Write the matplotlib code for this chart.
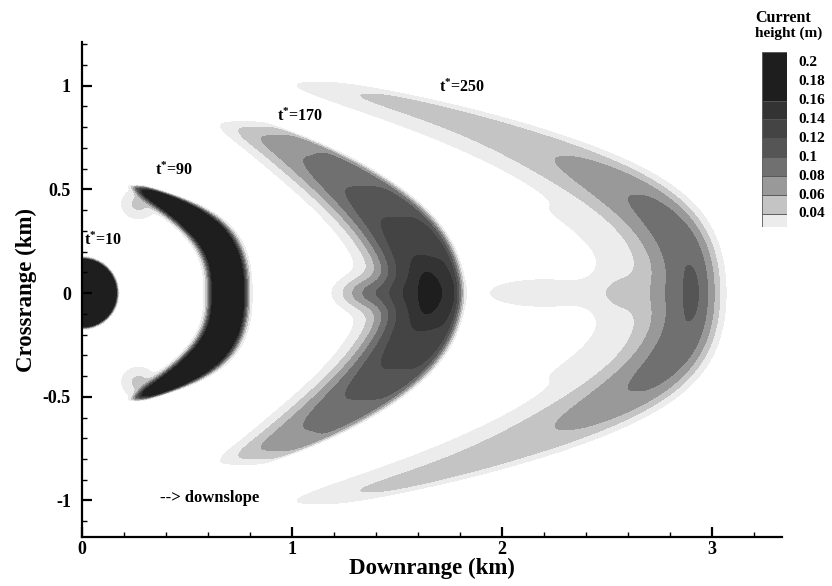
import numpy as np
import matplotlib
matplotlib.use('Agg')
import matplotlib.pyplot as plt

plt.rcParams['font.family'] = ['Liberation Serif', 'DejaVu Serif']
plt.rcParams['font.weight'] = 'bold'
plt.rcParams['mathtext.fontset'] = 'custom'
plt.rcParams['mathtext.rm'] = 'Liberation Serif:bold'
plt.rcParams['mathtext.it'] = 'Liberation Serif:bold'
plt.rcParams['mathtext.bf'] = 'Liberation Serif:bold'

# contour levels and grey fills (legend of the original)
levels = [0.02, 0.04, 0.06, 0.08, 0.10, 0.12, 0.14, 0.16, 1.0]
fill_colors = ['#ececec', '#c4c4c4', '#999999', '#707070',
               '#555555', '#444444', '#333333', '#1e1e1e']
legend_labels = ['0.04', '0.06', '0.08', '0.1', '0.12', '0.14', '0.16', '0.18', '0.2']

# t*=10: release cylinder
disk_radius = 0.163
disk_height = 0.3

# crescent fronts t*=90, 170, 250
nose_x = [0.695, 1.655, 2.90]
bend_k = [2.6, 1.3, 1.7]
bend_p = [2.7, 2.0, 2.5]
tip_y = [0.52, 0.84, 1.04]
base_h = [0.35, 0.145, 0.093]
plateau = [1.0, 0.0, 0.5]
decay_s = [1.0, 1.0, 0.6]
decay_m = [2, 2, 4]
tip_q = [10, 17, 24]
width_front = [0.081, 0.153, 0.144]
width_back = [0.081, 0.23, 0.24]
exp_front = [3, 8, 3]
exp_back = [3, 3, 2.33]
thin_c = [0.86, 0.75, 0.8]
thin_r = [3.3, 2, 2]
core_h = [0.0, 0.04, 0.02]
core_y = [0.1, 0.1, 0.13]
core_w = [0.05, 0.045, 0.035]
wake_h = [0.0, 0.01, 0.022]
wake_d = [-0.3, -0.3, -0.36]
wake_w = [0.1, 0.1, 0.12]
wake_s = [0.4, 0.4, 0.7]

# trailing tongue on the centreline
tongue_x = [1.35, 2.2]
tongue_h = [0.06, 0.03]
tongue_wx = [0.15, 0.4]
tongue_wy = [0.08, 0.1]

# pale patches behind the t*=90 tips
tail_x = [0.27, 0.27]
tail_y = [0.43, -0.43]
tail_h = [0.045, 0.045]
tail_wx = 0.09
tail_wy = 0.08

# text labels
time_labels = ['t$^{*}$=10', 't$^{*}$=90', 't$^{*}$=170', 't$^{*}$=250']
time_label_x = [0.10, 0.44, 1.04, 1.81]
time_label_y = [0.255, 0.593, 0.85, 0.99]


x = np.linspace(-0.05, 3.4, 900)
y = np.linspace(-1.25, 1.25, 700)
X, Y = np.meshgrid(x, y)
H = np.zeros_like(X)

R = np.hypot(X, Y)
H += disk_height / (1 + np.exp((R - disk_radius) / 0.005))

for i in range(len(nose_x)):
    ay = np.abs(Y)
    s = ay / tip_y[i]
    xc = nose_x[i] - bend_k[i] * ay ** bend_p[i]
    slope = bend_k[i] * bend_p[i] * ay ** (bend_p[i] - 1)
    d = (X - xc) / np.sqrt(1 + slope ** 2)
    thin = np.clip(1 - thin_c[i] * s ** thin_r[i], 0.12, None)
    wf = width_front[i] * thin
    wb = width_back[i] * thin
    prof = np.where(d > 0, np.exp(-(np.abs(d) / wf) ** exp_front[i]),
                    np.exp(-(np.abs(d) / wb) ** exp_back[i]))
    amp = plateau[i] + (1 - plateau[i]) * np.exp(-(s / decay_s[i]) ** decay_m[i])
    amp = amp * np.clip(1 - s ** tip_q[i], 0, None)
    H += base_h[i] * amp * prof
    H += core_h[i] * np.exp(-(Y / core_y[i]) ** 2 - (d / core_w[i]) ** 2)
    H += wake_h[i] * np.exp(-(s / wake_s[i]) ** 2 - ((d - wake_d[i]) / wake_w[i]) ** 2)

for i in range(len(tongue_x)):
    H += tongue_h[i] * np.exp(-((X - tongue_x[i]) / tongue_wx[i]) ** 2
                              - (Y / tongue_wy[i]) ** 2)

for i in range(len(tail_x)):
    H += tail_h[i] * np.exp(-((X - tail_x[i]) / tail_wx) ** 2
                            - ((Y - tail_y[i]) / tail_wy) ** 2)

fig = plt.figure(figsize=(8.32, 5.86), dpi=100)
ax = fig.add_axes([82 / 832, 1 - 537 / 586, 700 / 832, 495 / 586])
ax.contourf(X, Y, H, levels=levels, colors=fill_colors)

ax.set_xlim(0, 3.333)
ax.set_ylim(-1.176, 1.21)
for side in ['top', 'right']:
    ax.spines[side].set_visible(False)
for side in ['left', 'bottom']:
    ax.spines[side].set_linewidth(1.6)
ax.set_xticks([0, 1, 2, 3])
ax.set_xticklabels(['0', '1', '2', '3'])
ax.set_xticks(np.arange(0, 3.3, 0.2), minor=True)
ax.set_yticks([-1, -0.5, 0, 0.5, 1])
ax.set_yticklabels(['-1', '-0.5', '0', '0.5', '1'])
ax.set_yticks(np.arange(-1.1, 1.25, 0.1), minor=True)
ax.tick_params(which='major', direction='in', length=7, width=1.6, labelsize=13)
ax.tick_params(axis='y', which='major', pad=8)
ax.tick_params(axis='x', which='major', pad=3)
ax.tick_params(which='minor', direction='in', length=3.5, width=1.0)
ax.set_xlabel('Downrange (km)', fontsize=16.5, fontweight='bold', labelpad=0)
ax.set_ylabel('Crossrange (km)', fontsize=16.5, fontweight='bold', labelpad=4)

for lab, lx, ly in zip(time_labels, time_label_x, time_label_y):
    ax.text(lx, ly, lab, fontsize=11.5, ha='center', va='center')
ax.text(0.37, -0.99, '--> downslope', fontsize=12, ha='left', va='center')

# legend box
lax = fig.add_axes([762 / 832, 1 - 227 / 586, 25 / 832, 175 / 586])
box_lo = [-0.69, 0, 1, 2, 3, 4, 5, 6]
box_hi = [0, 1, 2, 3, 4, 5, 6, 8.57]
for lo, hi, c in zip(box_lo, box_hi, fill_colors):
    lax.bar(0.5, hi - lo, bottom=lo, width=1, color=c, edgecolor='#555555', linewidth=0.6)
lax.set_xlim(0, 1)
lax.set_ylim(-0.69, 8.57)
lax.axis('off')
for j, lab in enumerate(legend_labels):
    lax.text(1.44, j, lab, fontsize=11, ha='left', va='center')
fig.text(755 / 832, 1 - 18 / 586, 'Current', fontsize=11.5, ha='left', va='center')
fig.text(755 / 832, 1 - 33 / 586, 'height (m)', fontsize=11, ha='left', va='center')

fig.savefig('out.png', dpi=100)
